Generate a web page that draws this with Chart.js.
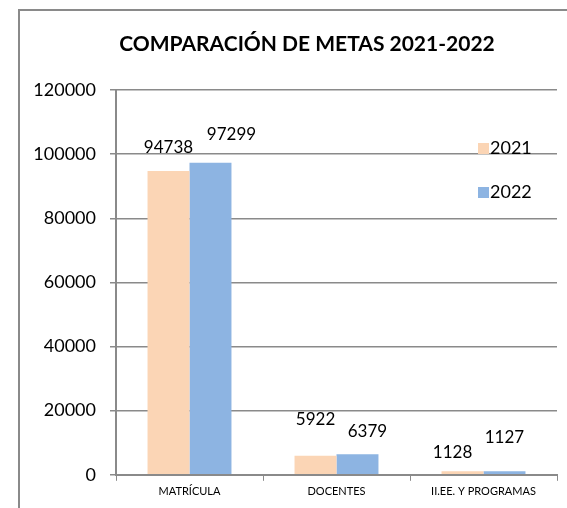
<!DOCTYPE html>
<html>
<head>
<meta charset="utf-8">
<script src="https://cdn.jsdelivr.net/npm/chart.js@4.4.0/dist/chart.umd.min.js"></script>
<style>
  html, body { margin: 0; background: #fff; overflow: hidden; }
  #wrap { width: 567px; height: 508px; }
  canvas { display: block; }
</style>
</head>
<body>
<div id="wrap"><canvas id="myChart" width="567" height="508"></canvas></div>
<script>
// datos
const categorias = ['MATRÍCULA', 'DOCENTES', 'II.EE. Y PROGRAMAS'];
const anios = ['2021', '2022'];
const metas2021 = [94738, 5922, 1128];
const metas2022 = [97299, 6379, 1127];
const ejeMax = 120000;
const ejePaso = 20000;

const titulo = 'COMPARACIÓN DE METAS 2021-2022';
const colores = ['#FBD5B5', '#8DB4E2'];
const gris = '#8a8a8a';
const fuente = 'Lato, "Open Sans", sans-serif';

// desplazamiento de las etiquetas (movidas a mano en el original)
const desp = [
  [[0, -23], [0, -36], [-10, -19]],
  [[21, -28], [10, -23], [0, -34]]
];

const marco = {
  id: 'marco',
  beforeDraw(chart) {
    const ctx = chart.ctx;
    ctx.save();
    ctx.fillStyle = '#fff';
    ctx.fillRect(0, 0, chart.width, chart.height);
    ctx.strokeStyle = gris;
    ctx.lineWidth = 2;
    ctx.beginPath();
    ctx.moveTo(19, chart.height + 5);
    ctx.lineTo(19, 10);
    ctx.lineTo(chart.width + 5, 10);
    ctx.stroke();

    ctx.fillStyle = '#000';
    ctx.font = 'bold 21px ' + fuente;
    ctx.textAlign = 'center';
    ctx.textBaseline = 'middle';
    ctx.fillText(titulo, 307, 44);
    ctx.restore();
  }
};

const etiquetas = {
  id: 'etiquetas',
  afterDatasetsDraw(chart) {
    const ctx = chart.ctx;
    ctx.save();
    ctx.fillStyle = '#000';
    ctx.font = '17px ' + fuente;
    ctx.textAlign = 'center';
    ctx.textBaseline = 'middle';
    chart.data.datasets.forEach((ds, i) => {
      chart.getDatasetMeta(i).data.forEach((bar, j) => {
        const d = desp[i][j];
        ctx.fillText(ds.data[j], bar.x + d[0], bar.y + d[1]);
      });
    });

    // leyenda a la derecha, encima del area
    const a = chart.chartArea;
    ctx.textAlign = 'left';
    ctx.font = '18px ' + fuente;
    chart.data.datasets.forEach((ds, i) => {
      const y = a.top + 58 + i * 44;
      ctx.fillStyle = ds.backgroundColor;
      ctx.fillRect(a.right - 79, y - 5, 11, 11);
      ctx.fillStyle = '#000';
      ctx.fillText(ds.label, a.right - 67, y);
    });
    ctx.restore();
  }
};

new Chart(document.getElementById('myChart'), {
  type: 'bar',
  data: {
    labels: categorias,
    datasets: [
      { label: anios[0], data: metas2021, backgroundColor: colores[0] },
      { label: anios[1], data: metas2022, backgroundColor: colores[1] }
    ]
  },
  options: {
    responsive: false,
    animation: false,
    layout: { padding: { left: 0, top: 90, right: 10, bottom: 6 } },
    categoryPercentage: 0.571,
    barPercentage: 1,
    plugins: {
      legend: { display: false },
      title: { display: false },
      tooltip: { enabled: false }
    },
    scales: {
      x: {
        grid: { drawOnChartArea: false, drawTicks: true, tickLength: 6, color: gris, offset: true },
        border: { color: gris, width: 2 },
        ticks: { color: '#000', font: { family: fuente, size: 11 }, padding: 4, maxRotation: 0 }
      },
      y: {
        min: 0,
        max: ejeMax,
        afterFit(scale) { scale.width = 116; },
        grid: { color: gris, lineWidth: 1.5, tickLength: 6 },
        border: { color: gris, width: 2 },
        ticks: {
          stepSize: ejePaso, color: '#000', font: { family: fuente, size: 18 }, padding: 14,
          callback: (v) => String(v)
        }
      }
    }
  },
  plugins: [marco, etiquetas]
});
</script>
</body>
</html>
